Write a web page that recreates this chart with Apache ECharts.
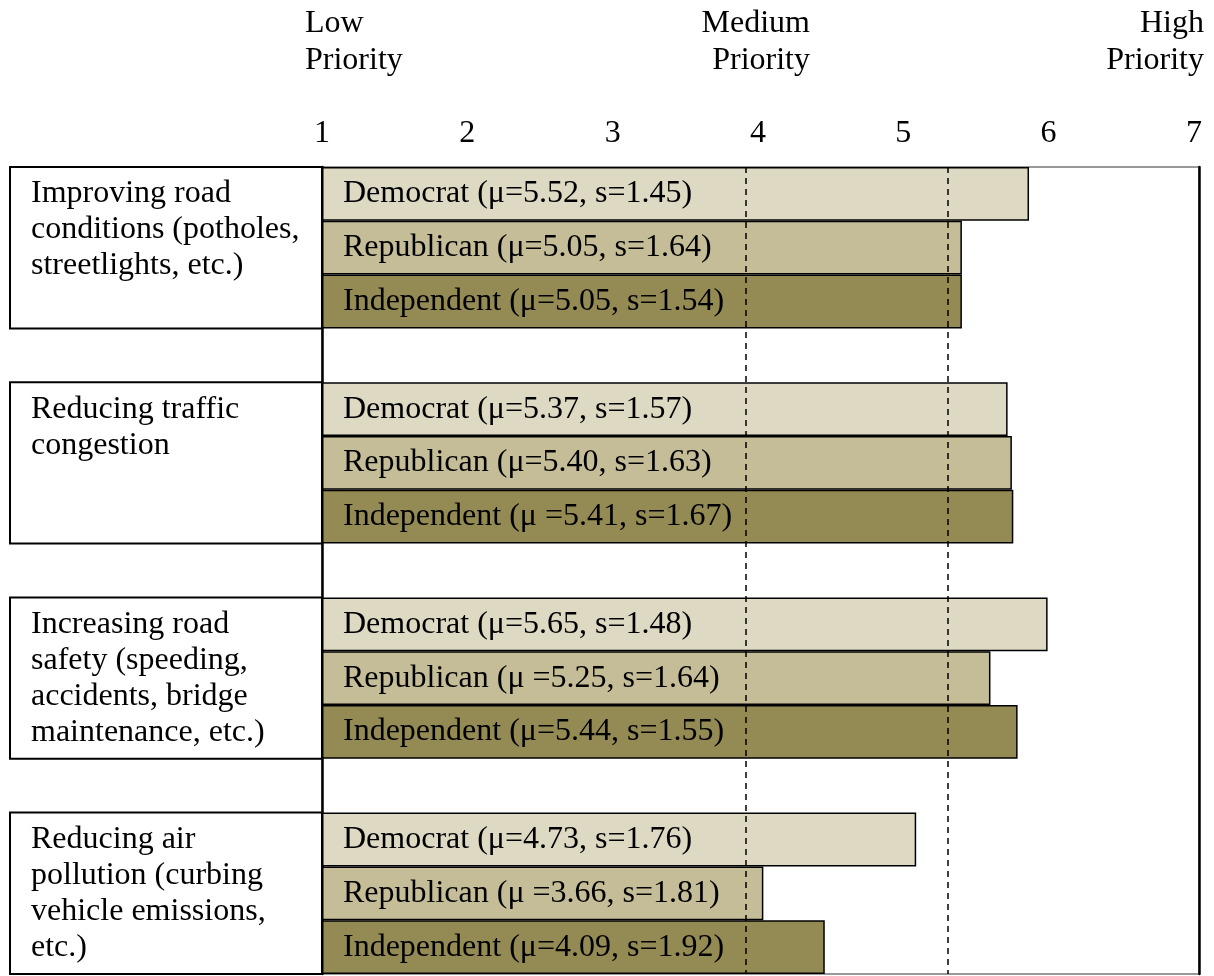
<!DOCTYPE html>
<html>
<head>
<meta charset="utf-8">
<script src="https://cdn.jsdelivr.net/npm/echarts@6.0.0/dist/echarts.min.js"></script>
<style>
  html, body { margin: 0; padding: 0; background: #fff; }
  #chart { width: 1214px; height: 976px; }
</style>
</head>
<body>
<div id="chart"></div>
<script>
// one boxed topic per group, text broken as in the source table
var topics = [
  'Improving road\nconditions (potholes,\nstreetlights, etc.)',
  'Reducing traffic\ncongestion',
  'Increasing road\nsafety (speeding,\naccidents, bridge\nmaintenance, etc.)',
  'Reducing air\npollution (curbing\nvehicle emissions,\netc.)'
];
var parties = ['Democrat', 'Republican', 'Independent'];

// mean (μ) and sd (s) per party, one value per topic
var democratMean = [5.52, 5.37, 5.65, 4.73];
var democratSd = [1.45, 1.57, 1.48, 1.76];
var republicanMean = [5.05, 5.40, 5.25, 3.66];
var republicanSd = [1.64, 1.63, 1.64, 1.81];
var independentMean = [5.05, 5.41, 5.44, 4.09];
var independentSd = [1.54, 1.67, 1.55, 1.92];
// a few labels were typed "μ =" in the source
var spacedMu = [[0, 0, 0], [0, 0, 1], [0, 1, 0], [0, 1, 0]];

var tickLabels = ['1', '2', '3', '4', '5', '6', '7'];
var headers = ['Low\nPriority', 'Medium\nPriority', 'High\nPriority'];
var guideValues = [3.54, 4.95];

var font = 'Liberation Serif';
var colors = ['#DDD9C3', '#C4BD97', '#948A54'];
var means = [democratMean, republicanMean, independentMean];
var sds = [democratSd, republicanSd, independentSd];

// 3 bar rows per topic + an empty row between topics
var rows = [];
topics.forEach(function (t, g) {
  parties.forEach(function (p) { rows.push(g + '-' + p); });
  if (g < topics.length - 1) rows.push(g + '-gap');
});

function partyData(i) {
  var out = [];
  topics.forEach(function (t, g) {
    parties.forEach(function (p, j) {
      out.push(j === i ? { value: means[i][g], sd: sds[i][g], sp: spacedMu[g][i] } : '-');
    });
    if (g < topics.length - 1) out.push('-');
  });
  return out;
}

var barSeries = parties.map(function (p, i) {
  var s = {
    name: p,
    type: 'bar',
    xAxisIndex: 0,
    yAxisIndex: 0,
    data: partyData(i),
    barWidth: '100%',
    barGap: '-100%',
    itemStyle: { color: colors[i], borderColor: '#000', borderWidth: 1.5 },
    label: {
      show: true,
      position: 'insideLeft',
      distance: 21,
      color: '#000',
      fontSize: 32,
      fontFamily: font,
      formatter: function (d) {
        return p + ' (μ' + (d.data.sp ? ' ' : '') + '=' + d.data.value.toFixed(2) +
          ', s=' + d.data.sd.toFixed(2) + ')';
      }
    }
  };
  if (i === parties.length - 1) {
    s.markLine = {
      silent: true,
      z: 10,
      symbol: ['none', 'none'],
      label: { show: false },
      lineStyle: { color: '#000', type: [6, 5], width: 1.5 },
      data: guideValues.map(function (v) { return { xAxis: v }; })
    };
  }
  return s;
});

var myChart = echarts.init(document.getElementById('chart'));
var option = {
  animation: false,
  backgroundColor: '#fff',
  textStyle: { fontFamily: font },
  title: [
    { text: headers[0], left: 305, top: 5, textAlign: 'left' },
    { text: headers[1], left: 810, top: 5, textAlign: 'right' },
    { text: headers[2], left: 1204, top: 5, textAlign: 'right' }
  ].map(function (t) {
    t.padding = 0;
    t.textStyle = { fontFamily: font, fontSize: 32, fontWeight: 'normal', color: '#000', lineHeight: 37 };
    return t;
  }),
  grid: [
    { left: 322, right: 15, top: 167, bottom: 2, show: true, borderColor: '#333', borderWidth: 1, outerBoundsMode: 'none' },
    { left: 10, width: 312, top: 167, bottom: 2, outerBoundsMode: 'none' }
  ],
  xAxis: [
    { gridIndex: 0, type: 'value', min: 0.57, max: 6.71, startValue: 0.57, show: false },
    {
      gridIndex: 0, type: 'value', position: 'top', min: 1, max: 7.035, interval: 1,
      axisLine: { show: false }, axisTick: { show: false }, splitLine: { show: false },
      axisLabel: {
        fontSize: 32, color: '#000', fontFamily: font, margin: 17,
        formatter: function (v) { return Number.isInteger(v) ? tickLabels[v - 1] : ''; }
      }
    },
    { gridIndex: 1, type: 'value', min: 0, max: 1, show: false }
  ],
  yAxis: [
    {
      gridIndex: 0, type: 'category', data: rows, inverse: true,
      axisLine: { onZero: false, lineStyle: { color: '#000', width: 2.5 } },
      axisTick: { show: false }, axisLabel: { show: false }, splitLine: { show: false }
    },
    {
      gridIndex: 0, type: 'category', data: rows, inverse: true, position: 'right',
      axisLine: { onZero: false, lineStyle: { color: '#000', width: 2.5 } },
      axisTick: { show: false }, axisLabel: { show: false }, splitLine: { show: false }
    },
    { gridIndex: 1, type: 'value', min: 0, max: rows.length, inverse: true, show: false }
  ],
  series: barSeries.concat([{
    type: 'scatter',
    xAxisIndex: 2,
    yAxisIndex: 2,
    data: [],
    silent: true,
    markArea: {
      silent: true,
      itemStyle: { color: '#fff', borderColor: '#000', borderWidth: 2 },
      label: {
        show: true, position: 'insideTopLeft', distance: 0, padding: [10, 0, 0, 22],
        color: '#000', fontSize: 32, lineHeight: 36, fontFamily: font, formatter: '{b}'
      },
      data: topics.map(function (t, g) {
        return [{ name: t, xAxis: 0, yAxis: g * 4 }, { xAxis: 1, yAxis: g * 4 + 3 }];
      })
    }
  }])
};
myChart.setOption(option);
</script>
</body>
</html>
